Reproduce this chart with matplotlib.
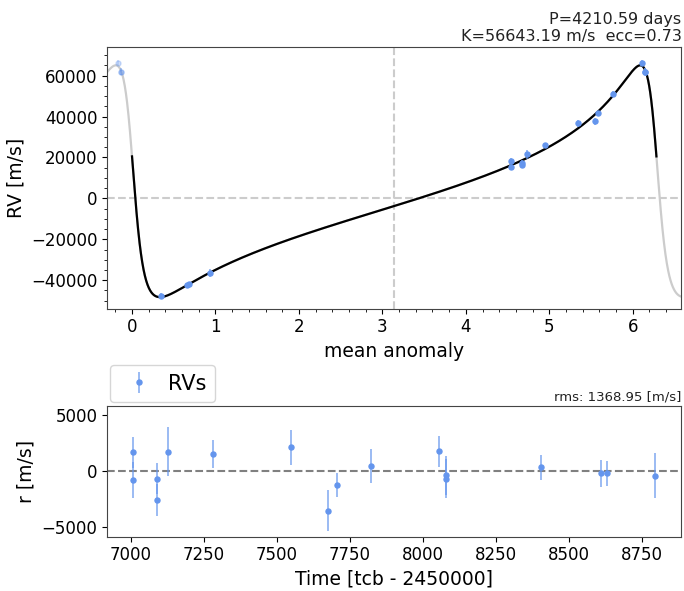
import numpy as np
import matplotlib
matplotlib.use("Agg")
import matplotlib.pyplot as plt
from matplotlib.ticker import MultipleLocator
from matplotlib.colors import to_rgba

# ---- data ----
P = 4210.59
K = 56643.19
ecc = 0.73
omega = 1.355
vsys = -450.0

times = [7007, 7007, 7090, 7090, 7127, 7279, 7546, 7674, 7705, 7822,
         8054, 8079, 8079, 8403, 8609, 8628, 8795]
phases = [4.543, 4.543, 4.667, 4.667, 4.727, 4.950, 5.345, 5.545, 5.589, 5.764,
          6.111, 6.152, 6.152, 0.347, 0.662, 0.683, 0.934]
rvs = [18260, 15470, 17430, 16150, 21680, 25940, 36710, 37690, 41750, 51050,
       66370, 61820, 61820, -47480, -42440, -41800, -36420]
resid = [1670, -806, -687, -2597, 1731, 1493, 2119, -3552, -1254, 448,
         1761, -388, -687, 328, -209, -209, -418]
errs = [1400, 1600, 1400, 1400, 2200, 1250, 1600, 1850, 1100, 1500,
        1400, 1750, 1750, 1150, 1200, 1100, 2000]
rms_text = "rms: 1368.95 [m/s]"

blue = "cornflowerblue"
eblue = to_rgba(blue, 0.75)


def kepler_rv(M):
    E = M.copy()
    for _ in range(60):
        E = E - (E - ecc * np.sin(E) - M) / (1 - ecc * np.cos(E))
    nu = 2 * np.arctan2(np.sqrt(1 + ecc) * np.sin(E / 2), np.sqrt(1 - ecc) * np.cos(E / 2))
    return vsys + K * (np.cos(nu + omega) + ecc * np.cos(omega))


fig = plt.figure(figsize=(6.84, 5.91), dpi=100)
ax1 = fig.add_axes([0.1564, 0.478, 0.8399, 0.4425])
ax2 = fig.add_axes([0.1564, 0.092, 0.8399, 0.221])

xmin, xmax = -0.3, 2 * np.pi + 0.3
Mfull = np.linspace(xmin, xmax, 2000)
ax1.plot(Mfull, kepler_rv(Mfull), color="0.8", lw=1.6, zorder=1)
Mm = np.linspace(0, 2 * np.pi, 2000)
ax1.plot(Mm, kepler_rv(Mm), color="k", lw=1.6, zorder=2)

ph = np.array(phases)
rv = np.array(rvs)
er = np.array(errs)
ax1.errorbar(ph, rv, yerr=er, fmt="o", color=blue, ecolor=eblue, ms=3.6,
             elinewidth=1.2, zorder=3)
# shifted copies
for shift in (-2 * np.pi, 2 * np.pi):
    sp = ph + shift
    m = (sp > xmin) & (sp < xmax)
    ax1.errorbar(sp[m], rv[m], yerr=er[m], fmt="o", color=blue, ms=3.6,
                 elinewidth=1.2, alpha=0.3, zorder=3)

ax1.axhline(0, color="0.8", ls="--", lw=1.5, zorder=0)
ax1.axvline(np.pi, color="0.8", ls="--", lw=1.5, zorder=0)
ax1.set_xlim(xmin, xmax)
ax1.set_ylim(-53800, 74000)
ax1.xaxis.set_minor_locator(MultipleLocator(0.2))
ax1.yaxis.set_minor_locator(MultipleLocator(5000))
ax1.set_xlabel("mean anomaly", fontsize=13.5)
ax1.set_ylabel("RV [m/s]", fontsize=13.5)
ax1.tick_params(labelsize=12)
ax1.set_title(f"P={P:.2f} days\nK={K:.2f} m/s  ecc={ecc:.2f}", loc="right",
              fontsize=11.5, pad=4, color="#222222")

ax2.errorbar(times, resid, yerr=errs, fmt="o", color=blue, ecolor=eblue, ms=3.6,
             elinewidth=1.2, label="RVs")
ax2.axhline(0, color="0.5", ls="--", lw=1.5, zorder=0)
ax2.set_ylim(-5870, 5830)
ax2.set_xlabel("Time [tcb - 2450000]", fontsize=13.5)
ax2.set_ylabel("r [m/s]", fontsize=13.5)
ax2.tick_params(labelsize=12)
ax2.set_title(rms_text, loc="right", fontsize=9.5, pad=4, color="#222222")
ax2.legend(loc="lower left", bbox_to_anchor=(-0.002, 1.0), fontsize=15,
           borderaxespad=0.2, handletextpad=0.4)

for ax in (ax1, ax2):
    for s in ax.spines.values():
        s.set_color("#444444")

fig.savefig("out.png", dpi=100)
